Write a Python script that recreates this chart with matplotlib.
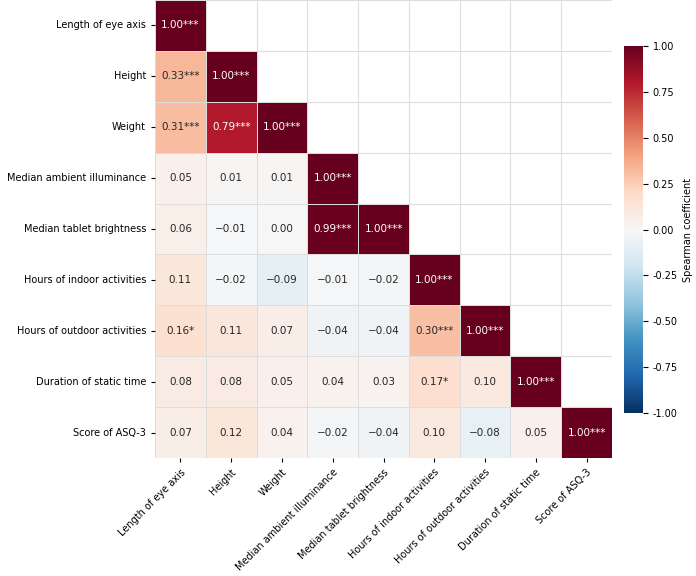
import numpy as np
import matplotlib
matplotlib.use('Agg')
import matplotlib.pyplot as plt
import seaborn as sns

# variable names
labels = ['Length of eye axis', 'Height', 'Weight', 'Median ambient illuminance',
          'Median tablet brightness', 'Hours of indoor activities',
          'Hours of outdoor activities', 'Duration of static time', 'Score of ASQ-3']

# lower triangle, row by row
row1 = [1.00]
row2 = [0.33, 1.00]
row3 = [0.31, 0.79, 1.00]
row4 = [0.05, 0.01, 0.01, 1.00]
row5 = [0.06, -0.01, 0.00, 0.99, 1.00]
row6 = [0.11, -0.02, -0.09, -0.01, -0.02, 1.00]
row7 = [0.16, 0.11, 0.07, -0.04, -0.04, 0.30, 1.00]
row8 = [0.08, 0.08, 0.05, 0.04, 0.03, 0.17, 0.10, 1.00]
row9 = [0.07, 0.12, 0.04, -0.02, -0.04, 0.10, -0.08, 0.05, 1.00]

# significance stars, same layout
star1 = ['***']
star2 = ['***', '***']
star3 = ['***', '***', '***']
star4 = ['', '', '', '***']
star5 = ['', '', '', '***', '***']
star6 = ['', '', '', '', '', '***']
star7 = ['*', '', '', '', '', '***', '***']
star8 = ['', '', '', '', '', '*', '', '***']
star9 = ['', '', '', '', '', '', '', '', '***']

rows = [row1, row2, row3, row4, row5, row6, row7, row8, row9]
stars = [star1, star2, star3, star4, star5, star6, star7, star8, star9]

n = len(labels)
corr = np.full((n, n), np.nan)
annot = np.full((n, n), '', dtype=object)
for i in range(n):
    for j in range(len(rows[i])):
        corr[i, j] = rows[i][j]
        annot[i, j] = '%.2f%s' % (rows[i][j], stars[i][j])
# nicer minus sign like the figure
annot = np.vectorize(lambda s: s.replace('-', '\u2212'))(annot)
mask = np.isnan(corr)

fig = plt.figure(figsize=(6.96, 5.76), dpi=100)
ax = fig.add_axes([155/696, 118/576, 457/696, 458/576])
cax = fig.add_axes([624/696, 163/576, 19/696, 367/576])

# grid lines for the empty upper part too
for k in range(n + 1):
    ax.axhline(k, color='#dddddd', lw=0.8, zorder=0)
    ax.axvline(k, color='#dddddd', lw=0.8, zorder=0)

sns.heatmap(corr, mask=mask, annot=annot, fmt='', cmap='RdBu_r', vmin=-1, vmax=1,
            linewidths=0.7, linecolor='#dddddd', ax=ax, cbar_ax=cax,
            annot_kws={'fontsize': 7.5},
            cbar_kws={'label': 'Spearman coefficient'})

ax.set_xticklabels(labels, rotation=45, ha='right', rotation_mode='anchor', fontsize=7)
ax.set_yticklabels(labels, rotation=0, fontsize=7)
ax.tick_params(length=3)
cax.tick_params(labelsize=7)
cax.set_yticks([-1, -0.75, -0.5, -0.25, 0, 0.25, 0.5, 0.75, 1])
cax.set_yticklabels(['%.2f' % v for v in [-1, -0.75, -0.5, -0.25, 0, 0.25, 0.5, 0.75, 1]])
cax.set_ylabel('Spearman coefficient', fontsize=7)

fig.savefig('out.png', dpi=100)
